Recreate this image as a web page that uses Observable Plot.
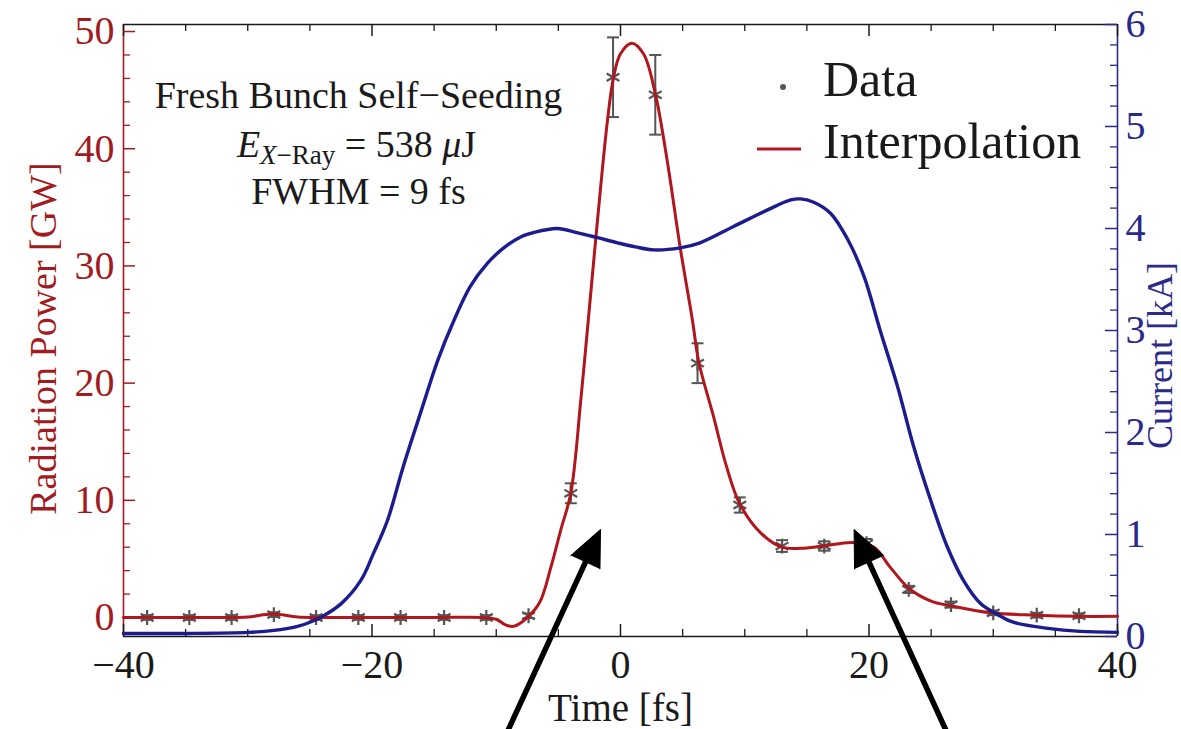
<!DOCTYPE html>
<html><head><meta charset="utf-8">
<script src="https://cdn.jsdelivr.net/npm/d3@7"></script>
<script src="https://cdn.jsdelivr.net/npm/@observablehq/plot@0.6"></script>
<style>
html,body{margin:0;padding:0;background:#fff;}
#wrap{position:relative;width:1181px;height:729px;overflow:hidden;}
#wrap svg{position:absolute;left:0;top:0;}
#wrap text{font-family:"Liberation Serif","Times New Roman",serif !important;}
</style></head><body><div id="wrap"></div>
<script>
// ---- data ----
const powerTime = [-40,-36,-32,-30,-28,-26,-24,-20,-15,-11,-10,-9.3,-8.6,-7.5,-6.5,-5.6,-4.8,-4.0,-3.2,-2.6,-1.85,-1.05,-0.56,0.0,0.9,1.85,2.8,3.8,4.8,5.8,6.3,7.5,8.5,9.6,11.3,13.0,14.5,16.3,18.7,20.4,21.7,23.2,25.0,26.6,29.8,33.4,36.8,40];
const powerGW   = [0,0,0,0.05,0.3,0.05,0,0,0,0,-0.15,-0.6,-0.75,0.0,1.3,4.3,7.5,10.6,18.5,25.3,33.9,42.4,46.1,48.1,49.0,48.1,44.7,38.7,31.6,25.3,21.8,17.1,13.0,9.7,7.2,6.0,5.9,6.1,6.4,6.0,4.3,2.5,1.4,1.0,0.4,0.2,0.1,0.1];

const currentTime = [-40,-35,-30,-27.9,-26,-25.2,-24.1,-22.5,-20.9,-19.9,-18.75,-17.5,-16.1,-14.7,-13.4,-12.1,-10.7,-9.4,-8.0,-7.0,-5.1,-3.5,-1.85,-0.24,1.2,2.7,4.8,6.4,9.1,11.8,13.7,14.5,15.5,16.9,18.3,19.6,20.9,22.3,23.6,24.95,26.3,27.6,29.0,30.3,31.6,34.4,37,40];
const currentKA   = [0.03,0.03,0.04,0.06,0.1,0.13,0.19,0.32,0.55,0.81,1.14,1.66,2.19,2.71,3.1,3.43,3.66,3.81,3.92,3.96,4.0,3.96,3.91,3.86,3.82,3.79,3.81,3.86,4.02,4.18,4.28,4.29,4.26,4.15,3.89,3.53,3.0,2.45,1.86,1.34,0.88,0.55,0.32,0.22,0.14,0.08,0.05,0.04];

const dataTime = [-38.1,-34.7,-31.3,-27.9,-24.5,-21.1,-17.7,-14.2,-10.8,-7.4,-4.0,-0.6,2.8,6.2,9.6,13.0,16.4,19.8,23.2,26.6,30.0,33.5,36.9];
const dataGW   = [0,0,0,0.25,0,0,0,0,0,0.15,10.6,46.1,44.6,21.7,9.6,6.1,6.1,6.3,2.4,1.1,0.4,0.2,0.15];
const dataErr  = [0.2,0.2,0.2,0.2,0.2,0.2,0.2,0.2,0.2,0.2,0.85,3.4,3.4,1.7,0.65,0.5,0.4,0.4,0.3,0.25,0.2,0.2,0.2];

const arrowFromTime = [-9.26, 26.4];
const arrowFromGW   = [-10.1, -10.1];
const arrowToTime   = [-1.61, 18.8];
const arrowToGW     = [7.5, 7.5];

const xTicks = [-40,-20,0,20,40];
const xMinorTicks = [-35,-30,-25,-15,-10,-5,5,10,15,25,30,35];
const leftTicks = [0,10,20,30,40,50];
const rightTicks = [0,1,2,3,4,5,6];

const noteLines = ["Fresh Bunch Self\u2212Seeding", "E_XRAY", "FWHM = 9 fs"];
const legendLabels = ["Data", "Interpolation"];
const xLabel = "Time [fs]";
const yLabel = "Radiation Power [GW]";
const y2Label = "Current [kA]";

// ---- layout / style ----
const W = 1181, H = 729, mL = 123, mR = 64, mT = 24, mB = 93;
const GW_MIN = -1.62, GW_MAX = 50.6, KA_MAX = 6;
const X_MIN = -40, X_MAX = 40;
const kaToGW = k => GW_MIN + k * (GW_MAX - GW_MIN) / KA_MAX;
const SERIF = "'Liberation Serif', 'Times New Roman', serif";
const RED = "#b0161d", RED_TXT = "#a11c22", BLUE = "#1c1c8e", BLUE_TXT = "#2a2a88", GRAY = "#555555", INK = "#1a1a1a";
const FS_TICK = 40, FS_LABEL = 39, FS_NOTE = 38, FS_LEG = 50;

const pxPerFs = (W - mL - mR) / (X_MAX - X_MIN);
const pxPerGW = (H - mT - mB) / (GW_MAX - GW_MIN);

const idxP = powerTime.map((_, i) => i);
const idxC = currentTime.map((_, i) => i);
const idxD = dataTime.map((_, i) => i);
const idxA = arrowFromTime.map((_, i) => i);
const arrowAngle = i => Math.atan2((arrowToTime[i] - arrowFromTime[i]) * pxPerFs, (arrowToGW[i] - arrowFromGW[i]) * pxPerGW) * 180 / Math.PI;

const leftMinor = d3.range(0, 51, 2).filter(v => v % 10 !== 0);
const rightMinor = d3.range(0, 31, 1).filter(v => v % 5 !== 0).map(v => v / 5);

const capSymbol = {draw(ctx) { ctx.moveTo(-6, 0); ctx.lineTo(6, 0); }};

const plot = Plot.plot({
  width: W, height: H,
  marginLeft: mL, marginRight: mR, marginTop: mT, marginBottom: mB,
  style: {fontFamily: SERIF, background: "#fff", overflow: "visible"},
  x: {domain: [X_MIN, X_MAX]},
  y: {domain: [GW_MIN, GW_MAX]},
  marks: [
    // frame
    Plot.ruleY([GW_MIN], {stroke: INK, strokeWidth: 1.6}),
    Plot.ruleY([GW_MAX], {stroke: INK, strokeWidth: 1.6}),
    Plot.ruleX([X_MIN], {stroke: RED_TXT, strokeWidth: 1.6}),
    Plot.ruleX([X_MAX], {stroke: BLUE_TXT, strokeWidth: 1.6}),
    // x ticks (inward, bottom and top)
    Plot.ruleX(xTicks, {x: d => d, y1: GW_MIN, y2: GW_MIN, insetTop: -12, stroke: INK, strokeWidth: 1.5}),
    Plot.ruleX(xMinorTicks, {x: d => d, y1: GW_MIN, y2: GW_MIN, insetTop: -7, stroke: INK, strokeWidth: 1.3}),
    Plot.ruleX(xTicks, {x: d => d, y1: GW_MAX, y2: GW_MAX, insetBottom: -12, stroke: INK, strokeWidth: 1.5}),
    Plot.ruleX(xMinorTicks, {x: d => d, y1: GW_MAX, y2: GW_MAX, insetBottom: -7, stroke: INK, strokeWidth: 1.3}),
    // left ticks
    Plot.ruleY(leftTicks, {y: d => d, x1: X_MIN, x2: X_MIN, insetRight: -12, stroke: RED_TXT, strokeWidth: 1.5}),
    Plot.ruleY(leftMinor, {y: d => d, x1: X_MIN, x2: X_MIN, insetRight: -7, stroke: RED_TXT, strokeWidth: 1.3}),
    // right ticks
    Plot.ruleY(rightTicks, {y: kaToGW, x1: X_MAX, x2: X_MAX, insetLeft: -12, stroke: BLUE_TXT, strokeWidth: 1.5}),
    Plot.ruleY(rightMinor, {y: kaToGW, x1: X_MAX, x2: X_MAX, insetLeft: -7, stroke: BLUE_TXT, strokeWidth: 1.3}),
    // tick labels
    Plot.axisX({ticks: xTicks, tickSize: 0, tickPadding: 13, label: null, fontSize: FS_TICK, fill: INK, fontFamily: SERIF}),
    Plot.axisY({anchor: "left", ticks: leftTicks, tickSize: 0, tickPadding: 9, label: null, fontSize: FS_TICK, fill: RED_TXT, fontFamily: SERIF}),
    Plot.axisY({anchor: "right", ticks: rightTicks.map(kaToGW), tickSize: 0, tickPadding: 8, label: null, fontSize: FS_TICK, fill: BLUE_TXT, fontFamily: SERIF,
      tickFormat: d => String(Math.round((d - GW_MIN) / (GW_MAX - GW_MIN) * KA_MAX))}),
    // axis labels
    Plot.text([xLabel], {frameAnchor: "bottom", dy: 84, lineAnchor: "bottom", textAnchor: "middle", fontSize: FS_LABEL, fill: INK, fontFamily: SERIF}),
    Plot.text([yLabel], {frameAnchor: "left", dx: -80, dy: 8, rotate: -90, textAnchor: "middle", fontSize: 38, fill: RED_TXT, fontFamily: SERIF}),
    Plot.text([y2Label], {frameAnchor: "right", dx: 43, dy: 25, rotate: -90, textAnchor: "middle", fontSize: 36, fill: BLUE_TXT, fontFamily: SERIF}),
    // data with error bars
    Plot.ruleX(idxD, {x: i => dataTime[i], y1: i => dataGW[i] - dataErr[i], y2: i => dataGW[i] + dataErr[i], stroke: GRAY, strokeWidth: 2}),
    Plot.dot(idxD, {x: i => dataTime[i], y: i => dataGW[i] - dataErr[i], symbol: capSymbol, stroke: GRAY, fill: "none", strokeWidth: 2}),
    Plot.dot(idxD, {x: i => dataTime[i], y: i => dataGW[i] + dataErr[i], symbol: capSymbol, stroke: GRAY, fill: "none", strokeWidth: 2}),
    Plot.dot(idxD, {x: i => dataTime[i], y: i => dataGW[i], symbol: "asterisk", r: 7, stroke: GRAY, strokeWidth: 2.2}),
    // curves
    Plot.line(idxP, {x: i => powerTime[i], y: i => powerGW[i], curve: "catmull-rom", stroke: RED, strokeWidth: 3}),
    Plot.line(idxC, {x: i => currentTime[i], y: i => kaToGW(currentKA[i]), curve: "catmull-rom", stroke: BLUE, strokeWidth: 3.4}),
    // annotation
    Plot.text([noteLines[0]], {frameAnchor: "top-left", dx: 235, dy: 83, lineAnchor: "bottom", textAnchor: "middle", fontSize: FS_NOTE, fill: INK, fontFamily: SERIF}),
    Plot.text([noteLines[1]], {frameAnchor: "top-left", dx: 233, dy: 132, lineAnchor: "bottom", textAnchor: "middle", fontSize: FS_NOTE, fill: INK, fontFamily: SERIF}),
    Plot.text([noteLines[2]], {frameAnchor: "top-left", dx: 235, dy: 179, lineAnchor: "bottom", textAnchor: "middle", fontSize: FS_NOTE, fill: INK, fontFamily: SERIF}),
    // arrows
    Plot.arrow(idxA, {x1: i => arrowFromTime[i], y1: i => arrowFromGW[i], x2: i => arrowToTime[i], y2: i => arrowToGW[i],
      headLength: 0, insetEnd: 24, stroke: "#000", strokeWidth: 5.5}),
    Plot.vector(idxA, {x: i => arrowToTime[i], y: i => arrowToGW[i], rotate: arrowAngle, length: 36, r: 16,
      shape: "spike", anchor: "end", fill: "#000", stroke: "#000", strokeWidth: 1})
  ]
});

// rich text for the energy line
d3.select(plot).selectAll("text").filter(function() { return this.textContent === "E_XRAY"; }).each(function() {
  const t = d3.select(this);
  t.text(null);
  t.append("tspan").attr("font-style", "italic").text("E");
  t.append("tspan").attr("font-style", "italic").attr("font-size", 27).attr("dy", 7).text("X");
  t.append("tspan").attr("font-size", 27).text("\u2212Ray");
  t.append("tspan").attr("dy", -7).text(" = 538 ");
  t.append("tspan").attr("font-style", "italic").text("\u03bc");
  t.append("tspan").text("J");
});

const wrap = document.getElementById("wrap");
wrap.appendChild(plot);

// legend overlay
const leg = d3.select(wrap).append("svg").attr("width", W).attr("height", H)
  .style("font-family", SERIF).style("pointer-events", "none");
leg.append("circle").attr("cx", 783).attr("cy", 87).attr("r", 3).attr("fill", GRAY);
leg.append("text").attr("x", 823).attr("y", 96).attr("font-size", FS_LEG).attr("fill", INK).text(legendLabels[0]);
leg.append("line").attr("x1", 757).attr("x2", 801).attr("y1", 149).attr("y2", 149).attr("stroke", RED).attr("stroke-width", 3);
leg.append("text").attr("x", 823).attr("y", 158).attr("font-size", FS_LEG).attr("fill", INK).text(legendLabels[1]);
</script>
</body></html>
